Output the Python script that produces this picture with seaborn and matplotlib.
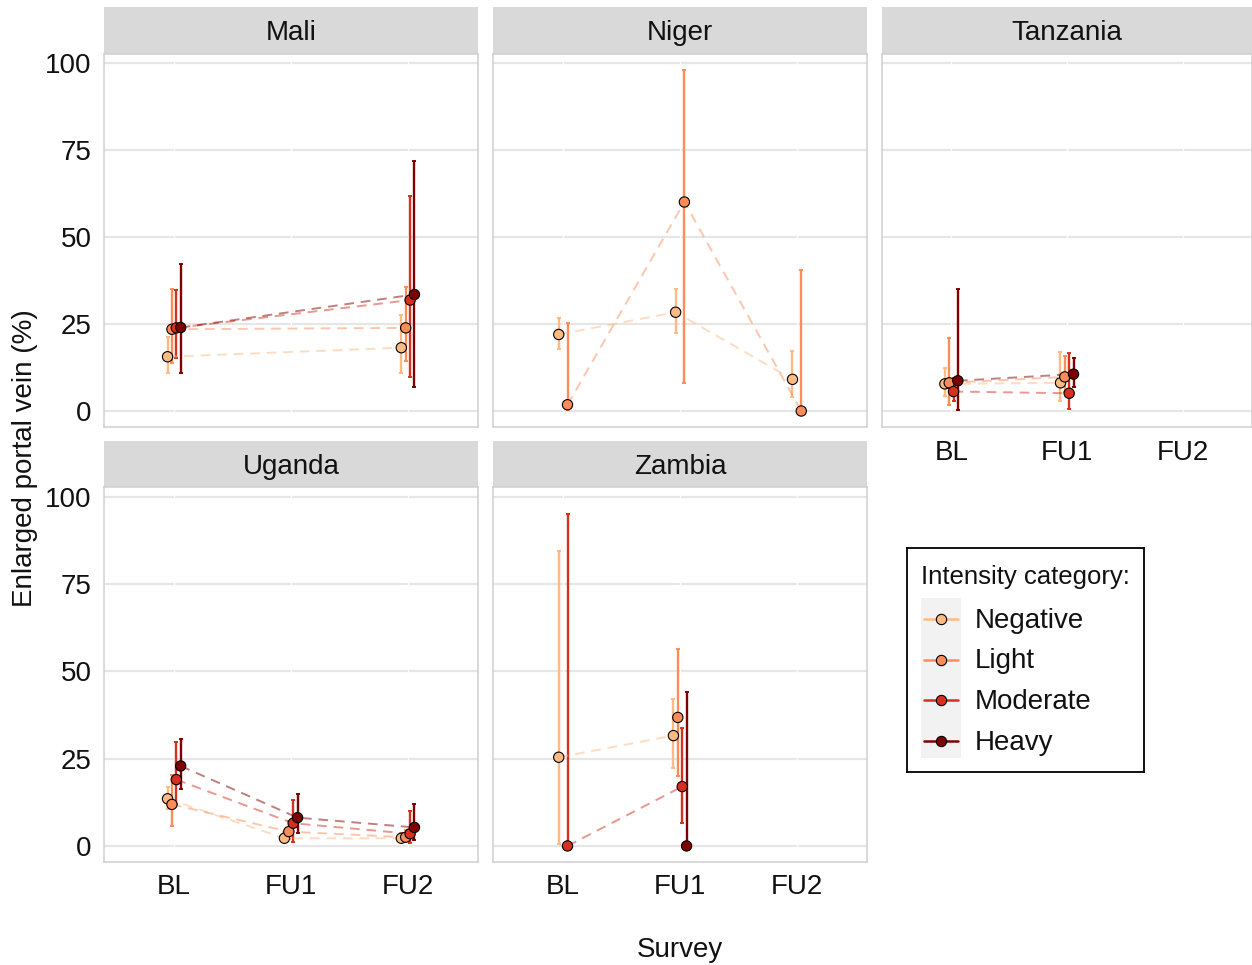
import numpy as np
import pandas as pd
import matplotlib
matplotlib.use("Agg")
import matplotlib.pyplot as plt
from matplotlib.patches import Rectangle
import seaborn as sns

# ---- data -------------------------------------------------------------
surveys = ["BL", "FU1", "FU2"]
categories = ["Negative", "Light", "Moderate", "Heavy"]
palette = ["#FDBB84", "#FC8D59", "#D7301F", "#7F0000"]
countries = ["Mali", "Niger", "Tanzania", "Uganda", "Zambia"]

country = (["Mali"] * 8 + ["Niger"] * 6 + ["Tanzania"] * 8
           + ["Uganda"] * 12 + ["Zambia"] * 6)
survey = (["BL"] * 4 + ["FU2"] * 4
          + ["BL", "BL", "FU1", "FU1", "FU2", "FU2"]
          + ["BL"] * 4 + ["FU1"] * 4
          + ["BL"] * 4 + ["FU1"] * 4 + ["FU2"] * 4
          + ["BL", "BL", "FU1", "FU1", "FU1", "FU1"])
category = (categories * 2
            + ["Negative", "Light"] * 3
            + categories * 2
            + categories * 3
            + ["Negative", "Moderate"] + categories)
prevalence = [15.6, 23.5, 23.9, 24.0, 18.2, 23.9, 31.9, 33.5,
              22.0, 1.8, 28.4, 60.1, 9.1, 0.0,
              7.8, 8.1, 5.6, 8.7, 8.1, 9.8, 5.1, 10.6,
              13.5, 11.9, 19.0, 22.9, 2.2, 4.1, 6.5, 8.1, 2.2, 2.5, 3.5, 5.3,
              25.4, 0.0, 31.6, 36.8, 17.0, 0.0]
ci_low = [10.9, 13.9, 15.1, 10.8, 10.8, 14.5, 9.9, 7.0,
          17.7, 0.2, 22.5, 8.1, 3.9, 0.0,
          4.3, 1.7, 3.0, 0.3, 3.0, 5.5, 0.7, 6.8,
          10.5, 5.8, 12.0, 16.3, 1.0, 2.0, 1.0, 3.6, 1.2, 1.4, 0.8, 1.7,
          0.6, 0.0, 22.3, 19.9, 6.5, 0.0]
ci_high = [21.3, 35.0, 34.8, 42.2, 27.6, 35.7, 61.8, 71.8,
           26.8, 25.2, 35.1, 98.0, 17.3, 40.5,
           12.3, 21.1, 9.5, 35.0, 16.9, 15.8, 16.6, 15.1,
           17.0, 20.4, 29.8, 30.5, 4.0, 7.0, 13.2, 14.9, 3.6, 4.5, 9.9, 12.1,
           84.4, 95.0, 42.0, 56.3, 33.8, 44.2]

df = pd.DataFrame({"country": country, "survey": survey, "category": category,
                   "prev": prevalence, "lo": ci_low, "hi": ci_high})
df["category"] = pd.Categorical(df["category"], categories, ordered=True)
df["s_idx"] = df["survey"].map({s: i for i, s in enumerate(surveys)})

# dodge the categories present at each survey time point
DODGE = 0.15
def dodge(g):
    g = g.sort_values("category")
    n = len(g)
    g["x"] = g["s_idx"] + (np.arange(n) - (n - 1) / 2) * DODGE / n
    return g
df = (df.groupby(["country", "survey"], group_keys=False, sort=False)
        .apply(dodge).sort_values(["country", "category", "s_idx"]))

colors = dict(zip(categories, palette))

# ---- figure -------------------------------------------------------------
sns.set_theme(style="white")
plt.rcParams["font.family"] = ["Liberation Sans", "DejaVu Sans"]

W, H = 1252, 965
fig = plt.figure(figsize=(W / 100, H / 100), dpi=100)

def box(l, t, r, b):
    return [l / W, 1 - b / H, (r - l) / W, (b - t) / H]

cols = [(104, 478), (493, 867), (882, 1252)]
rows = [(7, 53.5, 427), (441, 487, 862)]
FS = 20
TXT = "#111111"
STRIP = "#D9D9D9"
BORDER = "#CFCFCF"
GRID = "#E6E6E6"

for k, name in enumerate(countries):
    r, c = divmod(k, 3)
    l, rgt = cols[c]
    st, pt, pb = rows[r]
    sax = fig.add_axes(box(l, st, rgt, pt))
    sax.set_facecolor(STRIP)
    sax.set_xticks([]); sax.set_yticks([])
    for sp in sax.spines.values():
        sp.set_visible(False)
    sax.text(0.5, 0.44, name, ha="center", va="center", fontsize=FS,
             color=TXT, transform=sax.transAxes)

    ax = fig.add_axes(box(l, pt, rgt, pb))
    sub = df[df["country"] == name]
    ax.set_xlim(-0.6, 2.6)
    ax.set_ylim(-4.6, 102.8)

    for yv in [0, 25, 50, 75, 100]:
        ax.axhline(yv, color=GRID, lw=1.6, zorder=0.5)
    for xv in range(3):
        ax.axvline(xv, color="white", lw=0.9, zorder=0.6)

    for cat in categories:
        cs = sub[sub["category"] == cat]
        if cs.empty:
            continue
        ax.errorbar(cs["x"], cs["prev"],
                    yerr=[cs["prev"] - cs["lo"], cs["hi"] - cs["prev"]],
                    fmt="none", ecolor=colors[cat], elinewidth=1.7,
                    capsize=1.6, capthick=1.4, zorder=2)

    sns.lineplot(data=sub, x="x", y="prev", hue="category", palette=colors,
                 hue_order=categories, estimator=None, sort=False,
                 linestyle=(0, (5, 3.5)), lw=1.4, alpha=0.5, legend=False,
                 ax=ax, zorder=2.5)
    sns.scatterplot(data=sub, x="x", y="prev", hue="category", palette=colors,
                    hue_order=categories, s=55, edgecolor="black",
                    linewidth=0.8, legend=False, ax=ax, zorder=3)

    ax.set_xlabel(""); ax.set_ylabel("")
    ax.set_yticks([0, 25, 50, 75, 100])
    ax.set_xticks(range(3))
    show_x = name in ("Tanzania", "Uganda", "Zambia")
    ax.set_xticklabels(surveys if show_x else [])
    ax.set_yticklabels(["0", "25", "50", "75", "100"] if c == 0 else [])
    ax.tick_params(axis="both", length=0, labelsize=FS, colors=TXT)
    ax.tick_params(axis="x", pad=9)
    ax.tick_params(axis="y", pad=9)
    for sp in ax.spines.values():
        sp.set_color(BORDER)
        sp.set_linewidth(1.1)

fig.text(25 / W, 1 - 458 / H, "Enlarged portal vein (%)", rotation=90,
         ha="center", va="center", fontsize=FS, color=TXT)
fig.text(680 / W, 1 - 950 / H, "Survey", ha="center", va="center",
         fontsize=FS, color=TXT)

# ---- legend ------------------------------------------------------------
lax = fig.add_axes(box(907, 548, 1144, 772))
lax.set_xlim(907, 1144)
lax.set_ylim(772, 548)
lax.set_xticks([]); lax.set_yticks([])
for sp in lax.spines.values():
    sp.set_color("black")
    sp.set_linewidth(1.3)
lax.text(921, 577, "Intensity category:", ha="left", va="center",
         fontsize=18.5, color=TXT)
lax.add_patch(Rectangle((921, 598), 40, 160, facecolor="#F2F2F2",
                        edgecolor="none"))
for i, cat in enumerate(categories):
    yk = 619 + i * 40.5
    lax.plot([924, 958], [yk, yk], color=colors[cat], lw=1.8)
    lax.scatter([941], [yk], s=55, color=colors[cat], edgecolor="black",
                linewidth=0.8, zorder=3)
    lax.text(975, yk + 2, cat, ha="left", va="center", fontsize=FS,
             color=TXT)

fig.savefig("out.png", dpi=100)
